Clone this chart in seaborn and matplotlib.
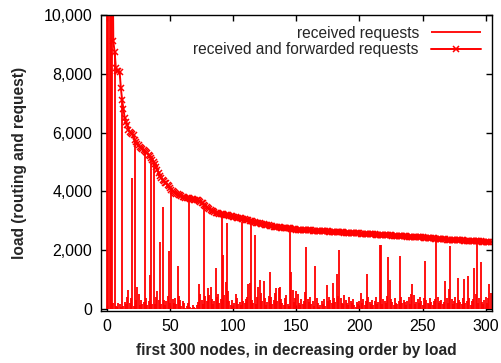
import numpy as np
import pandas as pd
import seaborn as sns
import matplotlib.pyplot as plt
from matplotlib.ticker import FuncFormatter, MultipleLocator

# load per node (first 300+ nodes, sorted by received+forwarded load)
received = [
    52000, 47000, 41000, 35000, 30000, 200, 8750, 120, 80, 210,
    180, 60, 7100, 100, 250, 180, 420, 650, 200, 360,
    4450, 90, 5760, 300, 760, 520, 140, 310, 160, 230,
    5360, 380, 150, 270, 1150, 5150, 180, 4990, 160, 420,
    610, 300, 2290, 170, 3480, 320, 150, 260, 430, 1970,
    210, 4050, 330, 220, 380, 160, 1460, 450, 310, 90,
    260, 210, 40, 110, 190, 3760, 80, 30, 150, 60,
    20, 130, 240, 860, 520, 300, 170, 3550, 440, 260,
    700, 480, 760, 350, 180, 290, 1380, 420, 510, 200,
    340, 3230, 1830, 470, 930, 2930, 620, 260, 140, 310,
    90, 220, 510, 380, 170, 250, 130, 2970, 280, 190,
    350, 420, 850, 870, 2910, 300, 220, 2520, 160, 410,
    740, 990, 530, 280, 960, 370, 150, 240, 460, 1270,
    420, 180, 310, 560, 700, 260, 700, 740, 330, 210,
    150, 370, 480, 160, 90, 2740, 1270, 650, 240, 380,
    620, 510, 200, 140, 330, 180, 260, 590, 2120, 340,
    230, 410, 170, 290, 120, 1460, 380, 210, 70, 150,
    260, 180, 340, 120, 820, 270, 420, 310, 190, 900,
    360, 230, 1190, 450, 2000, 380, 220, 160, 490, 300,
    210, 130, 410, 260, 190, 350, 140, 80, 230, 170,
    280, 560, 190, 330, 150, 260, 1190, 410, 240, 180,
    310, 130, 270, 420, 180, 230, 2180, 2180, 160, 350,
    260, 190, 440, 1760, 990, 330, 240, 130, 370, 210,
    160, 280, 1800, 410, 190, 310, 230, 140, 260, 420,
    180, 520, 850, 480, 160, 250, 330, 190, 410, 280,
    140, 360, 1620, 300, 220, 170, 390, 240, 130, 280,
    350, 2390, 420, 190, 260, 310, 180, 240, 940, 380,
    210, 670, 2150, 330, 160, 280, 420, 190, 1050, 300,
    240, 170, 360, 1030, 210, 290, 1130, 380, 140, 260,
    330, 1380, 520, 2303, 210, 360, 1600, 240, 170, 300,
    410, 190, 360, 850, 530,
]

forwarded = [
    60000, 48000, 40000, 31000, 14000, 9100, 8750, 8200, 8100, 8080,
    8050, 7500, 7100, 6800, 6500, 6350, 6250, 6100, 6030, 5980,
    5940, 5900, 5760, 5690, 5620, 5560, 5500, 5470, 5430, 5400,
    5360, 5340, 5300, 5250, 5200, 5150, 5060, 4990, 4930, 4820,
    4730, 4620, 4530, 4450, 4390, 4340, 4300, 4270, 4220, 4170,
    4100, 4050, 4020, 3990, 3950, 3920, 3900, 3880, 3860, 3840,
    3820, 3800, 3790, 3780, 3770, 3760, 3750, 3740, 3730, 3720,
    3710, 3700, 3690, 3670, 3650, 3620, 3590, 3550, 3510, 3470,
    3430, 3400, 3370, 3340, 3320, 3300, 3280, 3260, 3250, 3240,
    3230, 3230, 3220, 3210, 3200, 3190, 3180, 3170, 3160, 3150,
    3140, 3130, 3120, 3110, 3100, 3090, 3080, 3070, 3060, 3050,
    3040, 3030, 3020, 3000, 2990, 2980, 2960, 2950, 2940, 2930,
    2920, 2910, 2900, 2890, 2880, 2870, 2860, 2850, 2840, 2830,
    2820, 2810, 2800, 2795, 2790, 2785, 2780, 2775, 2770, 2765,
    2760, 2755, 2750, 2745, 2740, 2740, 2735, 2728, 2720, 2710,
    2700, 2698, 2695, 2693, 2690, 2688, 2685, 2683, 2680, 2678,
    2675, 2673, 2670, 2668, 2665, 2662, 2660, 2657, 2655, 2652,
    2650, 2647, 2644, 2641, 2638, 2636, 2633, 2630, 2627, 2625,
    2622, 2619, 2616, 2613, 2611, 2608, 2605, 2602, 2600, 2597,
    2595, 2592, 2589, 2586, 2584, 2581, 2578, 2576, 2573, 2570,
    2568, 2565, 2562, 2559, 2556, 2554, 2551, 2548, 2546, 2543,
    2540, 2537, 2534, 2532, 2529, 2526, 2524, 2521, 2518, 2516,
    2513, 2510, 2508, 2505, 2502, 2500, 2497, 2494, 2491, 2489,
    2486, 2483, 2481, 2478, 2475, 2473, 2470, 2468, 2465, 2462,
    2460, 2457, 2455, 2452, 2450, 2447, 2445, 2442, 2440, 2437,
    2435, 2430, 2426, 2422, 2418, 2414, 2410, 2406, 2402, 2398,
    2395, 2391, 2388, 2384, 2381, 2377, 2374, 2370, 2367, 2363,
    2360, 2357, 2355, 2352, 2350, 2347, 2345, 2342, 2340, 2337,
    2335, 2332, 2330, 2327, 2325, 2322, 2320, 2317, 2315, 2312,
    2310, 2308, 2306, 2303, 2301, 2299, 2297, 2295, 2293, 2291,
    2290, 2288, 2286, 2284, 2282,
]

nodes = np.arange(len(received))

df = pd.DataFrame({'node': nodes, 'received': received, 'forwarded': forwarded})

sns.set_style('ticks')
plt.rcParams['font.family'] = ['Liberation Sans', 'DejaVu Sans']

fig = plt.figure(figsize=(5.01, 3.63), dpi=100)
ax = fig.add_axes([0.201, 0.143, 0.781, 0.816])

# received requests drawn as impulses (gnuplot style)
ax.vlines(df['node'], 0, df['received'], color='#ff0000', linewidth=1.3,
          label='received requests')
sns.lineplot(x='node', y='forwarded', data=df, ax=ax, color='#ff0000',
             linewidth=1.4, estimator=None, marker='x', markersize=5,
             markeredgewidth=1.1, markeredgecolor='#ff0000',
             label='received and forwarded requests')

ax.set_xlim(-5, 305)
ax.set_ylim(-70, 10000)
ax.xaxis.set_major_locator(MultipleLocator(50))
ax.yaxis.set_major_locator(MultipleLocator(2000))
ax.yaxis.set_major_formatter(FuncFormatter(lambda v, p: f'{v:,.0f}'))

ax.tick_params(direction='in', top=True, right=True, length=4, width=1,
               labelsize=11.5, colors='black', pad=6)
for s in ax.spines.values():
    s.set_color('black')
    s.set_linewidth(1.0)

ax.set_xlabel('first 300 nodes, in decreasing order by load', fontsize=11.2,
              fontweight='bold', labelpad=6)
ax.set_ylabel('load (routing and request)', fontsize=11.2, fontweight='bold',
              labelpad=12)

ax.legend(loc='upper right', frameon=False, fontsize=11.2, markerfirst=False,
          handlelength=3.2, borderaxespad=0.3, labelspacing=0.1,
          handletextpad=0.8)

fig.savefig('out.png', dpi=100)
